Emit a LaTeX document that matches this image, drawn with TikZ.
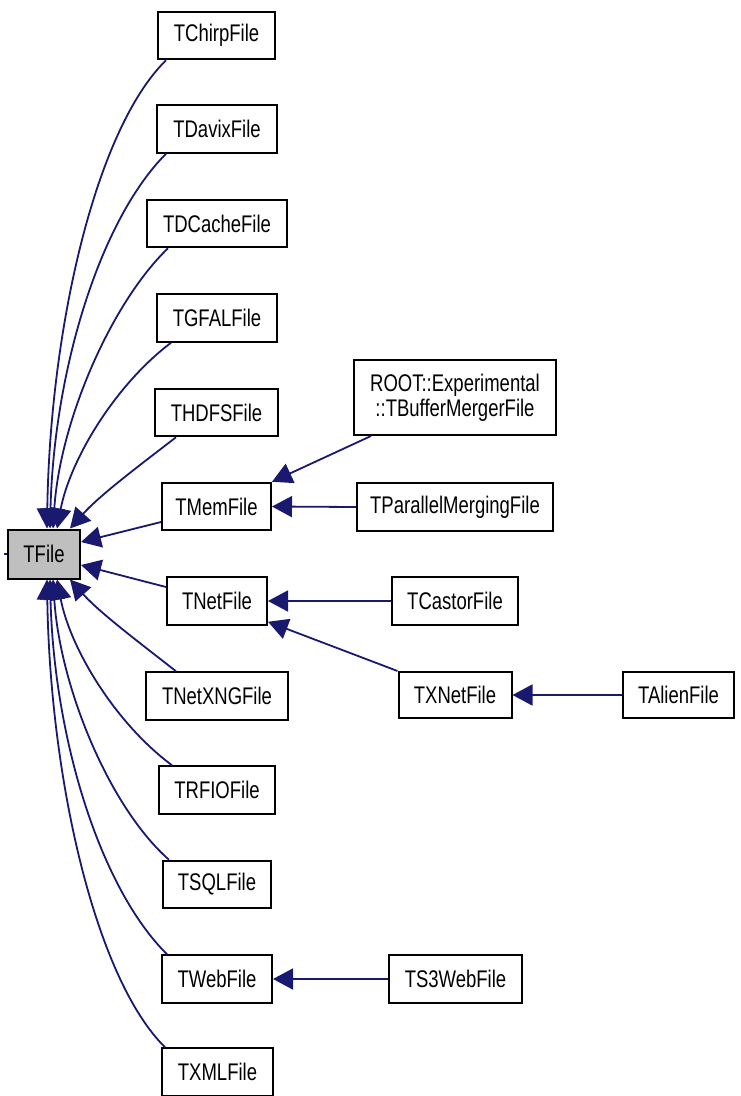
\documentclass[tikz,border=0pt]{standalone}
\usepackage{fontspec}
\setmainfont{Liberation Sans}
\usetikzlibrary{arrows.meta}
\definecolor{edgeblue}{HTML}{191970}
\definecolor{rootgray}{HTML}{BFBFBF}
% class names are set slightly taller than wide
\newcommand{\tall}[1]{\scalebox{1}[1.3]{#1}}

\begin{document}
\begin{tikzpicture}[x=1pt,y=-1pt,
  cls/.style={draw=black, line width=2pt, fill=white, inner sep=0pt,
    minimum height=47.5pt, font=\fontsize{18.5}{25}\selectfont},
  root/.style={cls, fill=rootgray},
  edge/.style={draw=edgeblue, line width=1.8pt,
    -{Triangle[length=20pt,width=21pt]}}]
\useasboundingbox (0,0) rectangle (741,1096);

% base class
\node[root, minimum width=72pt, minimum height=49pt] (tfile) at (44,554) {\tall{TFile}};

% direct subclasses
\node[cls, minimum width=117pt] (tchirp)  at (216.5,35.5) {\tall{TChirpFile}};
\node[cls, minimum width=120pt] (tdavix)  at (217,129)   {\tall{TDavixFile}};
\node[cls, minimum width=140pt] (tdcache) at (217,223.5) {\tall{TDCacheFile}};
\node[cls, minimum width=120pt] (tgfal)   at (217,318)   {\tall{TGFALFile}};
\node[cls, minimum width=123pt] (thdfs)   at (216.5,412.5) {\tall{THDFSFile}};
\node[cls, minimum width=109pt] (tmem)    at (216.5,506.5) {\tall{TMemFile}};
\node[cls, minimum width=100pt] (tnet)    at (217,601)   {\tall{TNetFile}};
\node[cls, minimum width=142pt] (tnetxng) at (217,696)   {\tall{TNetXNGFile}};
\node[cls, minimum width=116pt] (trfio)   at (217,790)   {\tall{TRFIOFile}};
\node[cls, minimum width=108pt] (tsql)    at (217,884.5) {\tall{TSQLFile}};
\node[cls, minimum width=110pt] (tweb)    at (217,979)   {\tall{TWebFile}};
\node[cls, minimum width=111pt] (txml)    at (217.5,1072) {\tall{TXMLFile}};

% second and third level
\node[cls, minimum width=202pt, minimum height=75pt, align=center] (tbuf) at (455,397.5)
  {\tall{ROOT::Experimental}\\\tall{::TBufferMergerFile}};
\node[cls, minimum width=196pt] (tpar)    at (455,507)   {\tall{TParallelMergingFile}};
\node[cls, minimum width=126pt] (tcastor) at (455,601)   {\tall{TCastorFile}};
\node[cls, minimum width=113pt, minimum height=46pt] (txnet) at (455,695) {\tall{TXNetFile}};
\node[cls, minimum width=111pt, minimum height=46pt] (talien) at (678.5,695) {\tall{TAlienFile}};
\node[cls, minimum width=133pt] (ts3)     at (455.5,979) {\tall{TS3WebFile}};

% short stub on the left of the base class
\coordinate (stub) at (4,554);
\draw[edgeblue, line width=1.8pt] (stub) -- (tfile.west);

% inheritance edges into TFile, upper fan
\draw[edge] ([xshift=9pt]tchirp.south west)  .. controls (95,130) and (50,330) .. ([xshift=3pt]tfile.north);
\draw[edge] ([xshift=10pt]tdavix.south west) .. controls (100,220) and (54,370) .. ([xshift=6pt]tfile.north);
\draw[edge] ([xshift=22pt]tdcache.south west) .. controls (112,302) and (60,420) .. ([xshift=9pt]tfile.north);
\draw[edge] ([xshift=15pt]tgfal.south west)  .. controls (115,385) and (70,460) .. ([xshift=13pt]tfile.north);
\draw[edge] ([xshift=22pt]thdfs.south west)  .. controls (140,465) and (100,495) .. ([xshift=26pt]tfile.north);

% inheritance edges into TFile, side
\draw[edge] ([yshift=-15.5pt]tmem.west) -- ([yshift=12pt]tfile.east);
\draw[edge] ([yshift=14pt]tnet.west) -- ([yshift=-11pt]tfile.east);

% inheritance edges into TFile, lower fan
\draw[edge] ([xshift=31pt]tnetxng.north west) .. controls (140,643) and (100,613) .. ([xshift=26pt]tfile.south);
\draw[edge] ([xshift=14pt]trfio.north west)  .. controls (115,723) and (70,648) .. ([xshift=13pt]tfile.south);
\draw[edge] ([xshift=7pt]tsql.north west)    .. controls (110,808) and (60,688) .. ([xshift=9pt]tfile.south);
\draw[edge] ([xshift=6pt]tweb.north west)    .. controls (100,888) and (54,738) .. ([xshift=6pt]tfile.south);
\draw[edge] ([xshift=4pt]txml.north west)    .. controls (95,978) and (50,778) .. ([xshift=3pt]tfile.south);

% deeper inheritance
\draw[edge] ([xshift=18pt]tbuf.south west) -- (tmem.north east);
\draw[edge] (tpar.west) -- (tmem.east);
\draw[edge] (tcastor.west) -- (tnet.east);
\draw[edge] (txnet.north west) -- ([yshift=4pt]tnet.south east);
\draw[edge] (talien.west) -- (txnet.east);
\draw[edge] (ts3.west) -- (tweb.east);
\end{tikzpicture}
\end{document}
